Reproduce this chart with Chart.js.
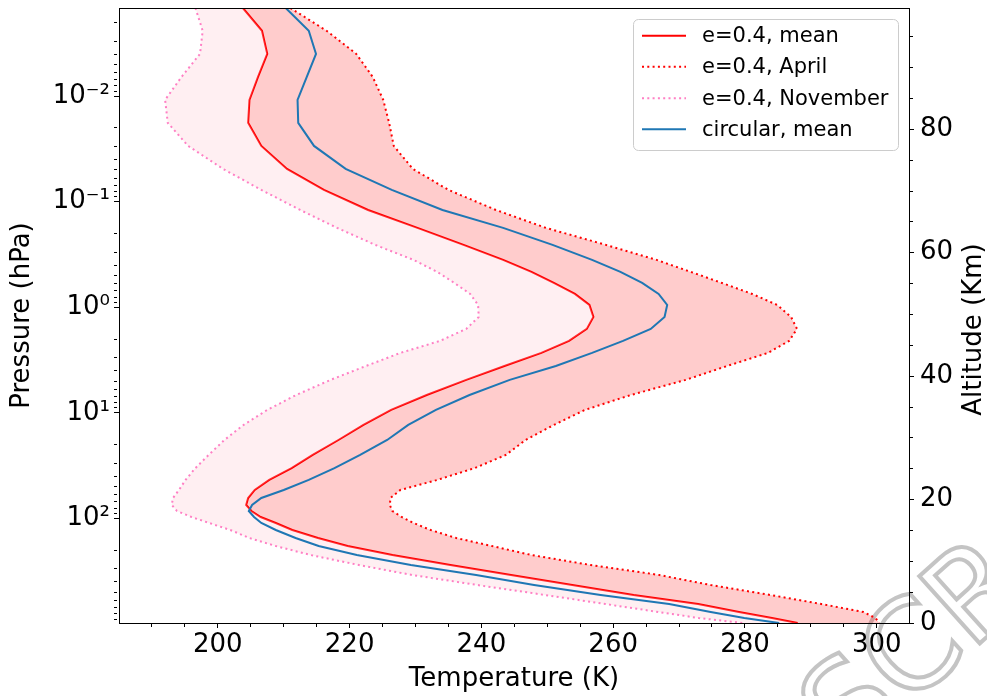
<!DOCTYPE html>
<html>
<head>
<meta charset="utf-8">
<script src="https://cdn.jsdelivr.net/npm/chart.js@4.4.1/dist/chart.umd.min.js"></script>
<style>
  html, body { margin: 0; padding: 0; background: #ffffff; }
  #wrap { width: 987px; height: 696px; }
</style>
</head>
<body>
<div id="wrap"><canvas id="c" width="987" height="696"></canvas></div>
<script>
// ---------------- data ----------------
const pressure = [0.00146, 0.0024, 0.00397, 0.00656, 0.01084, 0.0179, 0.0296, 0.0489, 0.0773, 0.1197,
  0.177, 0.2566, 0.356, 0.4624, 0.5886, 0.748, 0.951, 1.236, 1.605, 2.085,
  2.709, 3.60, 4.88, 6.78, 9.40, 13.05, 18.11, 25.1, 33.4, 43.3,
  53.9, 64.2, 74.8, 85.3, 97.2, 110.8, 129.1, 153.8, 183.2, 222.9,
  277.1, 344.6, 428.8, 533.3, 649, 773, 881, 982];

const tempMean = [203.8, 206.7, 207.5, 206.1, 204.8, 204.6, 206.6, 210.5, 216.1, 222.8,
  230.3, 237.3, 243.3, 247.6, 251.0, 254.2, 256.4, 257.0, 256.0, 253.3,
  249.1, 243.5, 237.7, 231.7, 226.3, 222.1, 218.3, 214.4, 211.2, 207.8,
  205.6, 204.6, 204.3, 205.1, 206.5, 208.8, 211.3, 215.2, 219.7, 226.5,
  235.3, 244.5, 253.8, 263.1, 272.9, 279.1, 284.1, 288.0];

const tempApril = [211.0, 216.5, 221.0, 223.5, 225.1, 226.0, 226.7, 229.6, 235.0, 242.2,
  249.8, 258.9, 266.6, 271.8, 276.5, 281.1, 284.9, 287.0, 287.9, 286.7,
  283.5, 277.3, 271.0, 262.7, 255.7, 251.0, 246.7, 243.7, 239.0, 233.3,
  227.7, 226.2, 226.1, 226.5, 227.9, 229.7, 232.3, 236.2, 241.6, 247.6,
  256.6, 267.0, 274.8, 283.9, 291.6, 298.0, 299.8, 300.4];

const tempNovember = [196.6, 197.7, 197.3, 194.5, 192.0, 192.4, 195.5, 200.8, 206.6, 212.5,
  218.1, 223.9, 229.7, 233.3, 235.9, 238.3, 239.5, 239.6, 237.7, 233.7,
  227.7, 222.5, 217.1, 211.9, 207.5, 203.9, 201.0, 198.6, 196.6, 195.1,
  194.1, 193.2, 193.0, 193.8, 196.0, 198.7, 201.9, 204.8, 208.8, 214.1,
  221.4, 229.5, 239.4, 249.7, 258.8, 266.9, 273.0, 279.7];

const tempCircular = [210.3, 213.8, 214.9, 213.5, 212.1, 212.2, 214.6, 219.4, 226.4, 234.1,
  243.3, 250.8, 256.8, 261.1, 264.4, 266.9, 268.2, 267.8, 265.7, 261.5,
  256.8, 251.3, 244.3, 238.2, 233.1, 228.9, 225.7, 221.6, 217.7, 213.8,
  210.0, 206.6, 205.2, 204.7, 205.5, 206.6, 208.8, 211.8, 215.3, 221.1,
  229.3, 239.2, 248.0, 258.1, 268.5, 274.8, 279.9, 285.2];

const seriesLabels = ['e=0.4, mean', 'e=0.4, April', 'e=0.4, November', 'circular, mean'];

// tick labels
const tempMajorTicks = [200, 220, 240, 260, 280, 300];
const pressureMajorTicks = [0.01, 0.1, 1, 10, 100];
const pressureTickLabels = ['10\u207B\u00B2', '10\u207B\u00B9', '10\u2070', '10\u00B9', '10\u00B2'];
const altitudeMajorTicks = [0, 20, 40, 60, 80];

// axis ranges
const tempRange = [185.0, 304.9];
const pressureRange = [0.00146, 982];
const altitudeRange = [0, 99.66];

// ---------------- helpers ----------------
const FONT = "'DejaVu Sans', 'Liberation Sans', sans-serif";
Chart.defaults.font.family = FONT;
Chart.defaults.color = '#000';

const COLORS = { red: '#ff0000', nov: '#ff7fc4', blue: '#1f77b4' };
const DOT = [2, 3.3];

function near(a, b) { return Math.abs(a - b) <= 1e-9 * Math.max(1, Math.abs(b)); }

// minor tick positions (tick marks only)
const tempTicks = [];
for (let t = 190; t <= 300; t += 5) tempTicks.push(t);
const altTicks = [];
for (let a = 0; a <= 95; a += 5) altTicks.push(a);
const presTicks = [];
for (let e = -3; e <= 2; e++) {
  for (let m = 1; m <= 9; m++) {
    const v = parseFloat((m * Math.pow(10, e)).toPrecision(6));
    if (v >= pressureRange[0] && v <= pressureRange[1]) presTicks.push(v);
  }
}

function profile(temps) { return pressure.map((p, i) => ({ x: temps[i], y: p })); }

const minorDash = (isMajor) => (c) => (c.tick && isMajor(c.tick.value)) ? [] : [3, 20];
function noPad(s) { s.paddingTop = 0; s.paddingBottom = 0; s.paddingLeft = 0; s.paddingRight = 0; }

// ---------------- plugins ----------------
const decorations = {
  id: 'decorations',
  beforeDraw(chart) {
    const ctx = chart.ctx;
    ctx.save();
    ctx.fillStyle = '#ffffff';
    ctx.fillRect(0, 0, chart.width, chart.height);
    // faint watermark at bottom-right corner
    ctx.translate(848, 762);
    ctx.rotate(-42 * Math.PI / 180);
    ctx.font = "124px " + FONT;
    ctx.strokeStyle = '#c4c4c4';
    ctx.lineWidth = 4;
    ctx.textBaseline = 'alphabetic';
    ctx.textAlign = 'left';
    ctx.strokeText('SCR', 0, 0);
    ctx.restore();
  },
  afterDraw(chart) {
    const ctx = chart.ctx;
    const a = chart.chartArea;
    ctx.save();
    // top spine
    ctx.strokeStyle = '#000';
    ctx.lineWidth = 1;
    ctx.beginPath();
    ctx.moveTo(a.left, a.top + 0.5);
    ctx.lineTo(a.right, a.top + 0.5);
    ctx.stroke();

    // right axis title (reads bottom to top)
    ctx.fillStyle = '#000';
    ctx.font = "26px " + FONT;
    ctx.textAlign = 'center';
    ctx.textBaseline = 'middle';
    ctx.translate(974, (a.top + a.bottom) / 2 + 14);
    ctx.rotate(-Math.PI / 2);
    ctx.fillText('Altitude (Km)', 0, 0);
    ctx.restore();

    // legend
    ctx.save();
    const bx = 633.5, by = 19.5, bw = 265, bh = 131, r = 5;
    ctx.beginPath();
    ctx.moveTo(bx + r, by);
    ctx.lineTo(bx + bw - r, by);
    ctx.arcTo(bx + bw, by, bx + bw, by + r, r);
    ctx.lineTo(bx + bw, by + bh - r);
    ctx.arcTo(bx + bw, by + bh, bx + bw - r, by + bh, r);
    ctx.lineTo(bx + r, by + bh);
    ctx.arcTo(bx, by + bh, bx, by + bh - r, r);
    ctx.lineTo(bx, by + r);
    ctx.arcTo(bx, by, bx + r, by, r);
    ctx.closePath();
    ctx.fillStyle = 'rgba(255,255,255,0.8)';
    ctx.fill();
    ctx.strokeStyle = '#cccccc';
    ctx.lineWidth = 1;
    ctx.stroke();
    const rows = [35.7, 66.7, 98.3, 129.3];
    chart.data.datasets.forEach((d, i) => {
      const y = rows[i];
      ctx.beginPath();
      ctx.setLineDash(d.borderDash || []);
      ctx.strokeStyle = d.borderColor;
      ctx.lineWidth = d.borderWidth;
      ctx.moveTo(642, y);
      ctx.lineTo(686, y);
      ctx.stroke();
      ctx.setLineDash([]);
      ctx.fillStyle = '#000';
      ctx.font = "21px " + FONT;
      ctx.textAlign = 'left';
      ctx.textBaseline = 'middle';
      ctx.fillText(d.label, 702, y + 1);
    });
    ctx.restore();
  }
};

// ---------------- chart ----------------
new Chart(document.getElementById('c'), {
  type: 'line',
  data: {
    datasets: [
      { label: seriesLabels[0], data: profile(tempMean), borderColor: COLORS.red, borderWidth: 2,
        borderDash: [], pointRadius: 0, fill: false, order: 3 },
      { label: seriesLabels[1], data: profile(tempApril), borderColor: COLORS.red, borderWidth: 2,
        borderDash: DOT, pointRadius: 0, fill: { target: 0 }, backgroundColor: 'rgba(255,0,0,0.2)', order: 2 },
      { label: seriesLabels[2], data: profile(tempNovember), borderColor: COLORS.nov, borderWidth: 2,
        borderDash: DOT, pointRadius: 0, fill: { target: 0 }, backgroundColor: 'rgba(255,192,203,0.25)', order: 1 },
      { label: seriesLabels[3], data: profile(tempCircular), borderColor: COLORS.blue, borderWidth: 2,
        borderDash: [], pointRadius: 0, fill: false, order: 0 }
    ]
  },
  options: {
    indexAxis: 'y',
    responsive: false,
    animation: false,
    devicePixelRatio: 1,
    layout: { padding: { top: 8, left: 0, right: 0, bottom: 0 } },
    elements: { line: { tension: 0, borderCapStyle: 'butt', borderJoinStyle: 'miter' } },
    plugins: { legend: { display: false }, tooltip: { enabled: false } },
    scales: {
      x: {
        type: 'linear', position: 'bottom',
        min: tempRange[0], max: tempRange[1],
        afterFit: (s) => { s.height = 73; noPad(s); },
        afterBuildTicks: (s) => { s.ticks = tempTicks.map(v => ({ value: v })); },
        ticks: {
          autoSkip: false, maxRotation: 0, minRotation: 0, padding: 2,
          font: { size: 26 }, color: '#000',
          callback: (v) => tempMajorTicks.includes(v) ? String(v) : ''
        },
        grid: {
          drawOnChartArea: false, drawTicks: true, tickLength: 5, tickColor: '#000', tickWidth: 1,
          tickBorderDash: minorDash(v => tempMajorTicks.includes(v))
        },
        border: { display: true, color: '#000', width: 1 },
        title: { display: true, text: 'Temperature (K)', font: { size: 26 }, color: '#000', padding: { top: 0, bottom: 1 } }
      },
      y: {
        type: 'logarithmic', position: 'left', reverse: true,
        min: pressureRange[0], max: pressureRange[1],
        afterFit: (s) => { s.width = 119; noPad(s); },
        afterBuildTicks: (s) => { s.ticks = presTicks.map(v => ({ value: v })); },
        ticks: {
          autoSkip: false, padding: 4, font: { size: 26 }, color: '#000',
          callback: (v) => {
            const k = pressureMajorTicks.findIndex(m => near(v, m));
            return k >= 0 ? pressureTickLabels[k] : '';
          }
        },
        grid: {
          drawOnChartArea: false, drawTicks: true, tickLength: 5, tickColor: '#000', tickWidth: 1,
          tickBorderDash: minorDash(v => pressureMajorTicks.some(m => near(v, m)))
        },
        border: { display: true, color: '#000', width: 1 },
        title: { display: true, text: 'Pressure (hPa)', font: { size: 26 }, color: '#000', padding: { top: 7, bottom: 0 } }
      },
      y2: {
        type: 'linear', position: 'right',
        min: altitudeRange[0], max: altitudeRange[1],
        afterFit: (s) => { s.width = 78; noPad(s); },
        afterBuildTicks: (s) => { s.ticks = altTicks.map(v => ({ value: v })); },
        ticks: {
          autoSkip: false, padding: 6, font: { size: 26 }, color: '#000',
          callback: (v) => altitudeMajorTicks.includes(v) ? String(v) : ''
        },
        grid: {
          drawOnChartArea: false, drawTicks: true, tickLength: 5, tickColor: '#000', tickWidth: 1,
          tickBorderDash: minorDash(v => altitudeMajorTicks.includes(v))
        },
        border: { display: true, color: '#000', width: 1 }
      }
    }
  },
  plugins: [decorations]
});
</script>
</body>
</html>
